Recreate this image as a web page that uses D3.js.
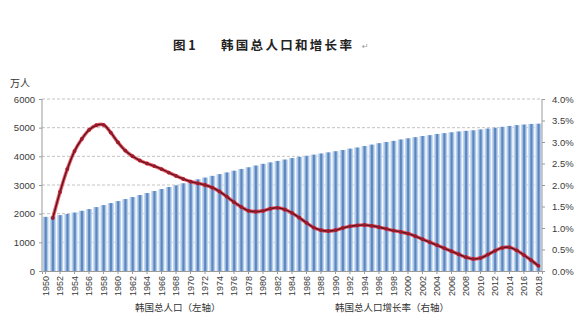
<!DOCTYPE html>
<html><head><meta charset="utf-8">
<script src="https://cdn.jsdelivr.net/npm/d3@7"></script>
<style>
html,body{margin:0;padding:0;background:#fff;}
svg{display:block;}
</style></head>
<body>
<svg id="chart" width="587" height="313"></svg>
<script>
const years = d3.range(1950, 2019);
const population = [
 1890,1910,1950,1990,2040,2100,2160,2230,2300,2370,
 2440,2510,2580,2650,2720,2790,2860,2930,2990,3060,
 3130,3200,3260,3320,3380,3440,3500,3560,3620,3680,
 3740,3790,3840,3890,3940,3980,4020,4060,4100,4140,
 4180,4220,4270,4310,4360,4410,4460,4500,4540,4590,
 4630,4670,4710,4740,4780,4810,4840,4870,4890,4910,
 4940,4970,5000,5030,5060,5090,5110,5130,5140
];
const rateYears = d3.range(1951, 2019);
const growthRate = [
 1.23,1.84,2.37,2.79,3.07,3.28,3.39,3.40,3.22,2.99,
 2.80,2.67,2.57,2.50,2.44,2.37,2.29,2.21,2.14,2.08,
 2.04,2.00,1.94,1.85,1.73,1.60,1.49,1.40,1.38,1.40,
 1.45,1.47,1.43,1.35,1.24,1.12,1.01,0.95,0.93,0.95,
 1.00,1.04,1.06,1.07,1.05,1.02,0.98,0.94,0.91,0.87,
 0.81,0.74,0.67,0.60,0.53,0.46,0.39,0.32,0.28,0.30,
 0.38,0.47,0.54,0.55,0.48,0.37,0.25,0.12
];
const leftTicks = [0,1000,2000,3000,4000,5000,6000];
const rightTicks = [0,0.5,1,1.5,2,2.5,3,3.5,4];
const titleText = "图 1";
const titleMain = "韩国总人口和增长率";
const unitLabel = "万人";
const legendLabels = ["韩国总人口（左轴）","韩国总人口增长率（右轴）"];

const svg = d3.select("#chart");
const L = 42, R = 542, T = 99, B = 271;

const x = d3.scaleBand().domain(years).range([L, R]).paddingInner(0.12).paddingOuter(0.05);
const yL = d3.scaleLinear().domain([0, 6000]).range([B, T]);
const yR = d3.scaleLinear().domain([0, 4]).range([B, T]);

const defs = svg.append("defs");
const grad = defs.append("linearGradient").attr("id","barGrad").attr("x1","0").attr("x2","1").attr("y1","0").attr("y2","0");
[["0%","#d6e5f5"],["25%","#a9c6e6"],["45%","#5d86bf"],["60%","#5d86bf"],["80%","#a9c6e6"],["100%","#d6e5f5"]]
 .forEach(([o,c])=>grad.append("stop").attr("offset",o).attr("stop-color",c));

svg.append("g").selectAll("line").data(leftTicks.filter(d=>d>0)).join("line")
  .attr("x1", L).attr("x2", R).attr("y1", d=>yL(d)).attr("y2", d=>yL(d))
  .attr("stroke", "#b4b4b4").attr("stroke-width", 0.8).attr("stroke-dasharray", "3,2");

svg.append("g").selectAll("rect").data(years).join("rect")
  .attr("x", d=>x(d)).attr("width", x.bandwidth())
  .attr("y", (d,i)=>yL(population[i])).attr("height", (d,i)=>B - yL(population[i]))
  .attr("fill", "url(#barGrad)");

const axisColor = "#9a9a9a";
const gL = svg.append("g").attr("transform", `translate(${L},0)`)
  .call(d3.axisLeft(yL).tickValues(leftTicks).tickSize(3).tickFormat(d3.format("d")));
const gR = svg.append("g").attr("transform", `translate(${R},0)`)
  .call(d3.axisRight(yR).tickValues(rightTicks).tickSize(3).tickFormat(d=>d.toFixed(1)+"%"));
const gB = svg.append("g").attr("transform", `translate(0,${B})`)
  .call(d3.axisBottom(x).tickValues(years.filter(y=>y%2===0)).tickSize(3));
[gL,gR,gB].forEach(g=>{
  g.selectAll("path").attr("stroke", axisColor);
  g.selectAll("line").attr("stroke", axisColor);
  g.selectAll("text").attr("fill","#3a3a3a").style("font-family","'Liberation Sans',Arial,sans-serif").style("font-size","9.5px");
});
gL.select(".domain").attr("d", `M0,${B}V${T}`);
gR.select(".domain").attr("d", `M0,${B}V${T}`);
gL.selectAll("text").attr("x", -7);
gR.selectAll("text").attr("x", 10);
gB.selectAll("text")
  .attr("transform","rotate(-90)")
  .attr("text-anchor","end")
  .attr("x", -5).attr("y", 0).attr("dy", "0.35em")
  .style("font-size","9px");

const line = d3.line().x((d,i)=>x(rateYears[i]) + x.bandwidth()/2).y(d=>yR(d)).curve(d3.curveCatmullRom.alpha(0.5));
svg.append("path").datum(growthRate).attr("d", line).attr("fill","none")
  .attr("stroke","#ec2a3c").attr("stroke-width",3.6).attr("stroke-opacity",0.75).attr("stroke-linejoin","round");
svg.append("path").datum(growthRate).attr("d", line).attr("fill","none")
  .attr("stroke","#5e1620").attr("stroke-width",1.6).attr("stroke-linejoin","round");
svg.append("g").selectAll("circle").data(growthRate).join("circle")
  .attr("cx",(d,i)=>x(rateYears[i]) + x.bandwidth()/2).attr("cy", d=>yR(d)).attr("r",1.9)
  .attr("fill","#9b1a2a");

const title = svg.append("text").attr("x", 173).attr("y", 50)
  .style("font-family","'Noto Sans CJK SC',sans-serif").style("font-weight","700")
  .style("font-size","12.5px").attr("fill","#222");
title.append("tspan").text(titleText);
title.append("tspan").attr("x", 221).style("letter-spacing","2.3px").text(titleMain);
svg.append("text").attr("x", 362).attr("y", 49).text("↵")
  .style("font-size","8px").attr("fill","#999").style("font-family","'DejaVu Sans',sans-serif");

svg.append("text").attr("x", 10).attr("y", 87).text(unitLabel)
  .style("font-family","'Noto Sans CJK SC',sans-serif").style("font-size","10px").attr("fill","#333");

const legX = [135, 335];
legendLabels.forEach((t,i)=>{
  svg.append("text").attr("x", legX[i]).attr("y", 311).text(t)
    .style("font-family","'Noto Sans CJK SC',sans-serif").style("font-size","9.5px").attr("fill","#333");
});
</script>
</body></html>
